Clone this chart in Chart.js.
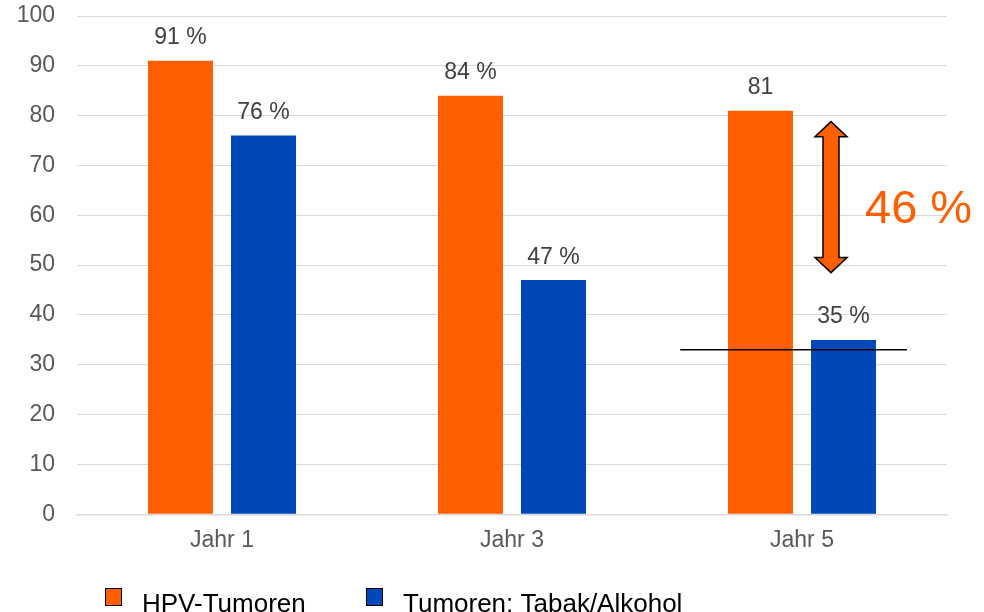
<!DOCTYPE html>
<html>
<head>
<meta charset="utf-8">
<script src="https://cdn.jsdelivr.net/npm/chart.js@4.4.1/dist/chart.umd.min.js"></script>
<style>
  html, body { margin: 0; padding: 0; background: #ffffff; }
  #wrap { width: 984px; height: 612px; position: relative; }
</style>
</head>
<body>
<div id="wrap"><canvas id="c" width="984" height="612"></canvas></div>
<script>
// ---- data ----
const categories = ['Jahr 1', 'Jahr 3', 'Jahr 5'];
const seriesNames = ['HPV-Tumoren', 'Tumoren: Tabak/Alkohol'];
const hpvValues = [91, 84, 81];
const tabakValues = [76, 47, 35];
const hpvLabels = ['91 %', '84 %', '81'];
const tabakLabels = ['76 %', '47 %', '35 %'];
const yMin = 0;
const yMax = 100;
const yStep = 10;
// annotation values (in axis units)
const arrowTopValue = 78.8;
const arrowBottomValue = 48.5;
const differenceLabel = '46 %';
const differenceLabelValue = 58.4;
const referenceLineValue = 33;

// ---- styles ----
const ORANGE = '#FF5F00';
const BLUE = '#0047BA';
const FONT = "'Liberation Sans', Arial, Helvetica, sans-serif";

const annotations = {
  id: 'annotations',
  afterDatasetsDraw(chart) {
    const ctx = chart.ctx;
    const x = chart.scales.x, y = chart.scales.y;
    // data labels
    ctx.save();
    ctx.font = '23px ' + FONT;
    ctx.fillStyle = '#404040';
    ctx.textAlign = 'center';
    ctx.textBaseline = 'alphabetic';
    const lbls = [hpvLabels, tabakLabels];
    chart.data.datasets.forEach((ds, di) => {
      chart.getDatasetMeta(di).data.forEach((bar, i) => {
        ctx.fillText(lbls[di][i], bar.x, bar.y - 16.5);
      });
    });
    ctx.restore();

    const c5 = x.getPixelForValue(2);
    const catW = x.getPixelForValue(2) - x.getPixelForValue(1);

    // reference line
    ctx.save();
    ctx.strokeStyle = '#000000';
    ctx.lineWidth = 1.5;
    const ly = y.getPixelForValue(referenceLineValue);
    ctx.beginPath();
    ctx.moveTo(c5 - 0.42 * catW, ly);
    ctx.lineTo(c5 + 0.362 * catW, ly);
    ctx.stroke();
    ctx.restore();

    // double arrow
    const ax = c5 + 0.1 * catW;
    const yt = y.getPixelForValue(arrowTopValue);
    const yb = y.getPixelForValue(arrowBottomValue);
    const hw = 16, hh = 15, sw = 8;
    ctx.save();
    ctx.beginPath();
    ctx.moveTo(ax, yt);
    ctx.lineTo(ax + hw, yt + hh);
    ctx.lineTo(ax + sw, yt + hh);
    ctx.lineTo(ax + sw, yb - hh);
    ctx.lineTo(ax + hw, yb - hh);
    ctx.lineTo(ax, yb);
    ctx.lineTo(ax - hw, yb - hh);
    ctx.lineTo(ax - sw, yb - hh);
    ctx.lineTo(ax - sw, yt + hh);
    ctx.lineTo(ax - hw, yt + hh);
    ctx.closePath();
    ctx.fillStyle = ORANGE;
    ctx.fill();
    ctx.strokeStyle = '#000000';
    ctx.lineWidth = 1.5;
    ctx.lineJoin = 'miter';
    ctx.stroke();
    ctx.restore();

    // difference label
    ctx.save();
    ctx.font = '47px ' + FONT;
    ctx.fillStyle = ORANGE;
    ctx.textAlign = 'left';
    ctx.textBaseline = 'alphabetic';
    ctx.fillText(differenceLabel, ax + 34, y.getPixelForValue(differenceLabelValue));
    ctx.restore();
  },
  afterDraw(chart) {
    // legend
    const ctx = chart.ctx;
    const colors = [ORANGE, BLUE];
    const boxX = [105, 366];
    ctx.save();
    ctx.font = '26px ' + FONT;
    ctx.textBaseline = 'alphabetic';
    ctx.textAlign = 'left';
    seriesNames.forEach((name, i) => {
      ctx.fillStyle = colors[i];
      ctx.fillRect(boxX[i] + 0.5, 588.5, 16, 17);
      ctx.strokeStyle = '#000000';
      ctx.lineWidth = 1;
      ctx.strokeRect(boxX[i] + 0.5, 588.5, 16, 17);
      ctx.fillStyle = '#000000';
      ctx.fillText(name, boxX[i] + 37, 611.5);
    });
    ctx.restore();
  }
};

new Chart(document.getElementById('c'), {
  type: 'bar',
  data: {
    labels: categories,
    datasets: [
      { label: seriesNames[0], data: hpvValues, backgroundColor: ORANGE, borderWidth: 0,
        categoryPercentage: 0.5724, barPercentage: 0.7831 },
      { label: seriesNames[1], data: tabakValues, backgroundColor: BLUE, borderWidth: 0,
        categoryPercentage: 0.5724, barPercentage: 0.7831 }
    ]
  },
  options: {
    responsive: false,
    animation: false,
    devicePixelRatio: 1,
    layout: { padding: { top: 16, right: 37, bottom: 0, left: 0 } },
    plugins: {
      legend: { display: false },
      tooltip: { enabled: false }
    },
    scales: {
      x: {
        grid: { display: false, drawTicks: false },
        border: { display: true, color: '#d9d9d9', width: 1.5 },
        ticks: { color: '#595959', font: { family: FONT, size: 23 }, padding: 13 },
        afterFit(scale) { scale.height = 97.7; scale.paddingLeft = 0; scale.paddingRight = 0; }
      },
      y: {
        min: yMin, max: yMax,
        grid: { color: '#d9d9d9', lineWidth: 1, drawTicks: false },
        border: { display: false },
        ticks: { stepSize: yStep, color: '#595959', font: { family: FONT, size: 23 }, padding: 22 },
        afterFit(scale) { scale.width = 77; scale.paddingTop = 0; scale.paddingBottom = 0; }
      }
    }
  },
  plugins: [annotations]
});
</script>
</body>
</html>
